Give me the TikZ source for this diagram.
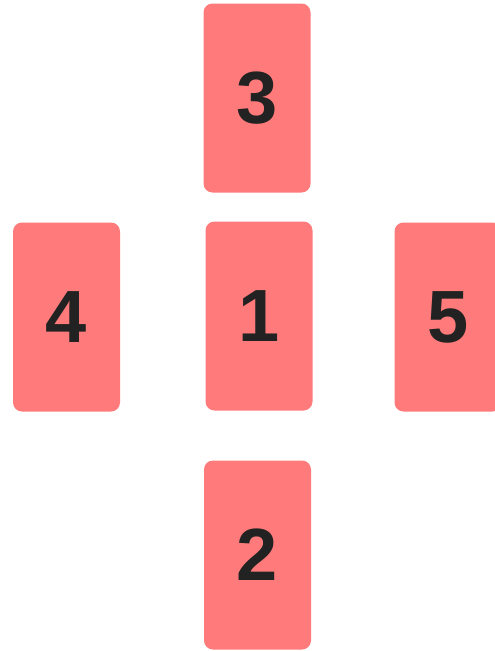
\documentclass[tikz,border=0pt]{standalone}
\usepackage{fontspec}
\setmainfont{Liberation Sans}
\definecolor{cardred}{HTML}{FF7B7B}
\definecolor{digit}{HTML}{222222}
\begin{document}
\begin{tikzpicture}[x=1pt,y=-1pt,
  card/.style={fill=cardred, draw=none, rounded corners=9pt, minimum width=107pt, minimum height=189pt, inner sep=0pt, text=digit, font=\fontsize{74}{74}\selectfont\bfseries}]
\useasboundingbox (0,0) rectangle (495,651);
\clip (0,0) rectangle (495,651);
\fill[white] (0,0) rectangle (495,651);
\node[card] (c3) at (257,98) {3};
\node[card] (c4) at (66.5,317) {4};
\node[card] (c1) at (259,316) {1};
\node[card] (c5) at (448,317) {5};
\node[card] (c2) at (257.5,555) {2};
\end{tikzpicture}
\end{document}
